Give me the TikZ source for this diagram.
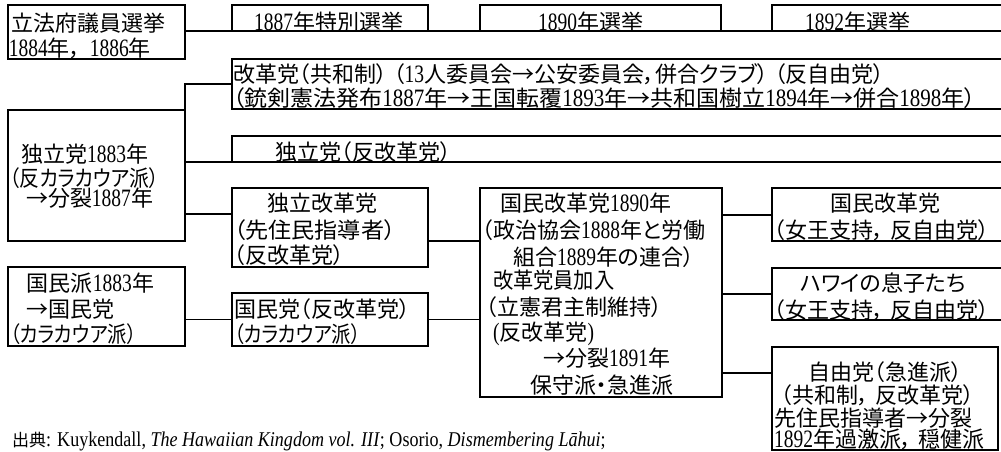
\documentclass[tikz,border=0pt]{standalone}
\usepackage{fontspec}
\setmainfont{Noto Sans CJK JP}[RawFeature=+palt]
\newfontfamily\lat{Liberation Serif}[FakeStretch=0.78]
\newfontfamily\latsrc{Liberation Serif}[FakeStretch=0.86]
\newcommand\N[1]{{\lat\fontsize{25}{26}\selectfont #1}}
\newcommand\Nw[1]{{\lat\addfontfeatures{FakeStretch=0.84}\fontsize{25}{26}\selectfont #1}}
\newcommand\gp{\hspace{0.3em}}
\newcommand\st[1]{\addfontfeatures{FakeStretch=#1}}
\newcommand\mkbox[5]{\node[box, minimum width={(#4-#2)*1pt}, minimum height={(#5-#3)*1pt}] (#1) at (#2,#3) {};}
\begin{document}
\begin{tikzpicture}[x=1pt,y=-1pt,
  box/.style={draw, line width=1.3pt, inner sep=0pt, outer sep=0pt, anchor=north west},
  conn/.style={line width=1.1pt},
  tx/.style={anchor=base west, inner sep=0pt, outer sep=0pt, font=\fontsize{22}{26}\selectfont}]
\useasboundingbox (0,0) rectangle (1001,451);
\fill[white] (0,0) rectangle (1001,451);
\clip (0,0) rectangle (1001,451);
% boxes
\mkbox{b1}{8}{5}{185}{59}
\mkbox{bt1}{232}{5}{428}{31}
\mkbox{bt2}{480}{5}{721}{31}
\mkbox{bt3}{772}{5}{1004}{31}
\mkbox{rf}{232}{59}{1004}{109}
\mkbox{dok}{8}{110}{185}{241}
\mkbox{dok2}{232}{136}{1004}{162}
\mkbox{dkr}{232}{188}{428}{267}
\mkbox{nkr}{480}{188}{722}{397}
\mkbox{nkr2}{772}{188}{1004}{241}
\mkbox{haw}{772}{268}{1004}{320}
\mkbox{lib}{772}{347}{998}{450}
\mkbox{kmp}{8}{267}{185}{346}
\mkbox{kmt}{232}{293}{428}{346}
% connectors
\draw[conn] (b1.east |- bt1.south west) -- (bt1.south west);
\draw[conn] (bt1.south east) -- (bt2.south west);
\draw[conn] (bt2.south east) -- (bt3.south west);
\draw[conn] (dok.north east) |- (rf.west);
\draw[conn] (dok.east |- dok2.south west) -- (dok2.south west);
\draw[conn] ([yshift=-26pt]dkr.north west) coordinate (k1) -- (k1 -| dok.east);
\draw[conn] ([yshift=-53pt]dkr.north east) coordinate (k2) -- (k2 -| nkr.west);
\draw[conn] ([yshift=-27pt]nkr2.north west) coordinate (k3) -- (k3 -| nkr.east);
\draw[conn] (haw.west) -- (haw.west -| nkr.east);
\draw[conn] ([yshift=-26pt]lib.north west) coordinate (k4) -- (k4 -| nkr.east);
\draw[conn] (kmt.west) -- (kmt.west -| kmp.east);
\draw[conn] (kmt.east) -- (kmt.east -| nkr.west);
% texts
\node[tx] (t1) at (11,31) {立法府議員選挙};
\node[tx] (t2) at (9,56) {\N{1884}年，\hspace{0.4em}\N{1886}年};
\node[tx] (t3) at (254,30) {\N{1887}年特別選挙};
\node[tx] (t4) at (538,30) {\N{1890}年選挙};
\node[tx] (t5) at (805,30) {\N{1892}年選挙};
\node[tx] (t6) at (233,82) {改革党（共和制）\gp（\N{13}人委員会→公安委員会，併合クラブ）\gp（反自由党）};
\node[tx] (t7) at (233,106) {\st{1.045}（銃剣憲法発布\Nw{1887}年→王国転覆\Nw{1893}年→共和国樹立\Nw{1894}年→併合\Nw{1898}年）};
\node[tx] (t8) at (21,162) {独立党\N{1883}年};
\node[tx] (t9) at (10,186) {\st{0.9}（反カラカウア派）};
\node[tx] (t10) at (26,206) {→分裂\N{1887}年};
\node[tx] (t11) at (275,160) {独立党（反改革党）};
\node[tx] (t12) at (267,211) {独立改革党};
\node[tx] (t13) at (234,238) {\st{1.05}（先住民指導者）};
\node[tx] (t14) at (234,263) {（反改革党）};
\node[tx] (t15) at (500,211) {国民改革党\N{1890}年};
\node[tx] (t16) at (482,238) {（政治協会\N{1888}年と労働};
\node[tx] (t17) at (513,265) {組合\N{1889}年の連合）};
\node[tx] (t18) at (493,288) {\st{0.92}改革党員加入};
\node[tx] (t19) at (486,315) {（立憲君主制維持）};
\node[tx] (t20) at (493,340) {\N{(}反改革党\N{)}};
\node[tx] (t21) at (543,366) {→分裂\N{1891}年};
\node[tx] (t22) at (530,393) {保守派・急進派};
\node[tx] (t23) at (830,211) {国民改革党};
\node[tx] (t24) at (774,238) {（女王支持，\gp 反自由党）};
\node[tx] (t25) at (800,291) {ハワイの息子たち};
\node[tx] (t26) at (774,318) {（女王支持，\gp 反自由党）};
\node[tx] (t27) at (808,380) {自由党（急進派）};
\node[tx] (t28) at (781,403) {（共和制，\gp 反改革党）};
\node[tx] (t29) at (774,426) {先住民指導者→分裂};
\node[tx] (t30) at (774,447) {\N{1892}年過激派，\gp 穏健派};
\node[tx] (t31) at (27,291) {国民派\N{1883}年};
\node[tx] (t32) at (27,317) {→国民党};
\node[tx] (t33) at (10,342) {\st{0.88}（カラカウア派）};
\node[tx] (t34) at (234,317) {国民党（反改革党）};
\node[tx] (t35) at (234,342) {\st{0.88}（カラカウア派）};
\node[anchor=base west, inner sep=0pt] (src) at (12,446) {\fontsize{17}{20}\selectfont 出典{\latsrc\fontsize{21}{22}\selectfont: Kuykendall, \textit{The Hawaiian Kingdom vol. III}; Osorio, \textit{Dismembering Lāhui};}};
\end{tikzpicture}
\end{document}
